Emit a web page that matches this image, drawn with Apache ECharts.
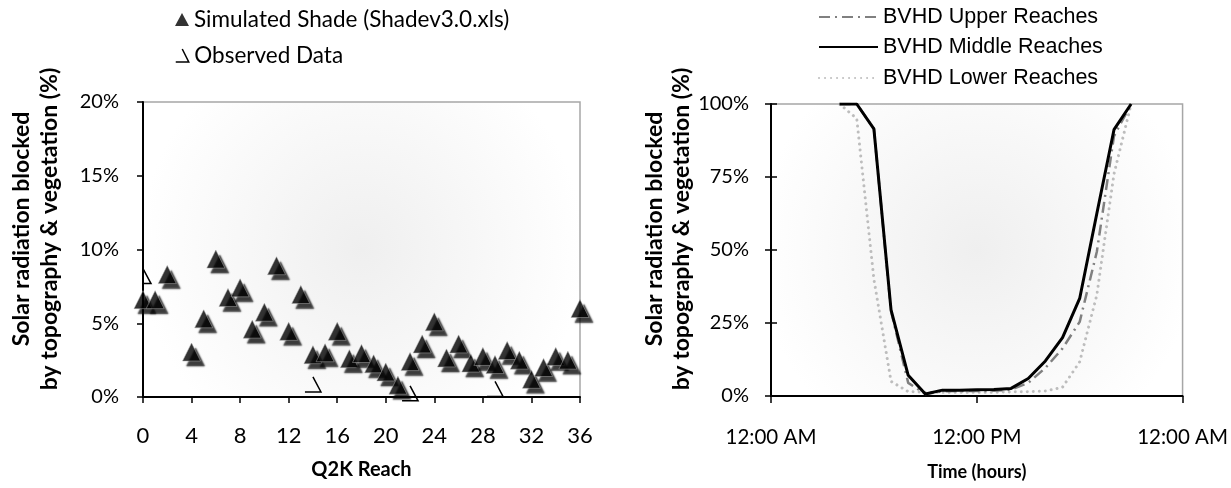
<!DOCTYPE html>
<html>
<head>
<meta charset="utf-8">
<script src="https://cdn.jsdelivr.net/npm/echarts@6/dist/echarts.min.js"></script>
<style>
  html, body { margin: 0; padding: 0; background: #ffffff; }
  #chart { width: 1231px; height: 488px; }
</style>
</head>
<body>
<div id="chart"></div>
<script>
// ---- Left panel: shade by Q2K reach (percent) ----
const reaches = [0, 1, 2, 4, 5, 6, 7, 8, 9, 10, 11, 12, 13, 14, 15, 16, 17, 18, 19, 20, 21, 22, 23, 24, 25, 26, 27, 28, 29, 30, 31, 32, 33, 34, 35, 36];
const simulatedShade = [6.6, 6.6, 8.3, 3.05, 5.3, 9.35, 6.75, 7.4, 4.6, 5.75, 8.9, 4.45, 6.95, 2.87, 3.0, 4.45, 2.6, 2.95, 2.25, 1.7, 0.8, 2.4, 3.6, 5.1, 2.65, 3.6, 2.3, 2.75, 2.2, 3.15, 2.5, 1.2, 2.0, 2.75, 2.5, 6.0];
const observedReaches = [0, 14, 22, 29];
const observedShade = [8.2, 0.85, 0.25, 0.55];

// ---- Right panel: hourly blocked radiation (percent) ----
const hours = [4, 5, 6, 7, 8, 9, 10, 11, 12, 13, 14, 15, 16, 17, 18, 19, 20, 21];
const upperReaches  = [100, 100, 91.5, 29, 4.5, 0.7, 1.6, 1.7, 1.7, 1.8, 2.2, 4.5, 9.6, 16.3, 25.4, 49.4, 89, 100];
const middleReaches = [100, 100, 91.5, 29.5, 7.1, 0.7, 2.0, 2.0, 2.1, 2.2, 2.6, 6.0, 12.0, 20.0, 33.4, 62.5, 91.2, 100];
const lowerReaches  = [100, 95, 40, 5, 1.5, 1.3, 1.3, 1.3, 1.3, 1.3, 1.4, 1.5, 1.7, 3.0, 11.7, 34.6, 76, 100];
const timeTicks = [0, 12, 24];
const timeTickLabels = ['12:00 AM', '12:00 PM', '12:00 AM'];

const pairs = (xs, ys) => xs.map((x, i) => [x, ys[i]]);

const CAL = 'Lato, "Open Sans", sans-serif';
const ARIAL = '"Liberation Sans", Arial, sans-serif';

const plotFill = () => new echarts.graphic.RadialGradient(0.5, 0.5, 0.75, [
  { offset: 0, color: '#efefef' },
  { offset: 1, color: '#ffffff' }
]);

const axisLine = { show: true, lineStyle: { color: '#000', width: 2 } };
const noSplit = { show: false };

// open triangle marker (right side and base only); the base stops at the plot's left edge
const obsSymbol = 'path://M8,0 L16,16 L0,16';
const OBS_W = 16, OBS_H = 15;
function renderObserved(params, api) {
  const p = api.coord([api.value(0), api.value(1)]);
  const leftEdge = params.coordSys.x;
  return {
    type: 'polyline',
    shape: { points: [
      [p[0], p[1] - OBS_H / 2],
      [p[0] + OBS_W / 2, p[1] + OBS_H / 2],
      [Math.max(p[0] - OBS_W / 2, leftEdge), p[1] + OBS_H / 2]
    ] },
    style: { stroke: '#000', lineWidth: 1.5, fill: null }
  };
}

const lineLegend = (name, top) => ({
  data: [name], left: 818, top: top, itemWidth: 59, itemHeight: 14, padding: 0,
  itemStyle: { opacity: 0 },
  textStyle: { fontFamily: ARIAL, fontSize: 21.5, color: '#000' }
});

const chart = echarts.init(document.getElementById('chart'), null, { renderer: 'canvas' });

chart.setOption({
  animation: false,
  backgroundColor: '#ffffff',
  grid: [
    { left: 143, top: 102, width: 437, height: 295, show: true, borderColor: '#a6a6a6', borderWidth: 1.5, backgroundColor: plotFill() },
    { left: 771, top: 104, width: 420, height: 292, show: true, borderColor: '#a6a6a6', borderWidth: 1.5, backgroundColor: plotFill() }
  ],
  legend: [
    { data: [{ name: 'Simulated Shade (Shadev3.0.xls)', icon: 'triangle',
        itemStyle: { shadowBlur: 0, shadowOffsetX: 0, shadowOffsetY: 0, borderWidth: 0 } }],
      left: 175, top: 8, itemWidth: 14, itemHeight: 13, padding: 0,
      textStyle: { fontFamily: CAL, fontSize: 22.5, color: '#000' } },
    { data: [{ name: 'Observed Data', icon: obsSymbol,
        itemStyle: { color: 'rgba(0,0,0,0)', borderColor: '#000', borderWidth: 1.5 } }],
      left: 175, top: 44, itemWidth: 14, itemHeight: 13, padding: 0,
      textStyle: { fontFamily: CAL, fontSize: 22.5, color: '#000' } },
    lineLegend('BVHD Upper Reaches', 6),
    lineLegend('BVHD Middle Reaches', 36),
    lineLegend('BVHD Lower Reaches', 67)
  ],
  xAxis: [
    { gridIndex: 0, type: 'value', min: 0, max: 36, interval: 4,
      axisLine: axisLine, splitLine: noSplit,
      axisTick: { show: true, inside: false, length: 6, lineStyle: { color: '#000', width: 1.5 } },
      axisLabel: { fontFamily: CAL, fontSize: 22, color: '#000', margin: 28 },
      name: 'Q2K Reach', nameLocation: 'middle', nameGap: 63,
      nameTextStyle: { fontFamily: CAL, fontSize: 20, fontWeight: 'bold', color: '#000' } },
    { gridIndex: 1, type: 'value', min: 0, max: 24, interval: 12,
      axisLine: axisLine, splitLine: noSplit,
      axisTick: { show: true, inside: false, length: 7, lineStyle: { color: '#000', width: 1.5 } },
      axisLabel: { fontFamily: CAL, fontSize: 20.5, color: '#000', margin: 31,
        formatter: v => timeTickLabels[timeTicks.indexOf(v)] },
      name: 'Time (hours)', nameLocation: 'middle', nameGap: 67,
      nameTextStyle: { fontFamily: CAL, fontSize: 18, fontWeight: 'bold', color: '#000' } }
  ],
  yAxis: [
    { gridIndex: 0, type: 'value', min: 0, max: 20, interval: 5, position: 'left',
      axisLine: axisLine, splitLine: noSplit,
      axisTick: { show: true, inside: false, length: 6, lineStyle: { color: '#000', width: 1.5 } },
      axisLabel: { fontFamily: CAL, fontSize: 20, color: '#000', margin: 24, formatter: '{value}%' } },
    { gridIndex: 1, type: 'value', min: 0, max: 100, interval: 25, position: 'left',
      axisLine: axisLine, splitLine: noSplit,
      axisTick: { show: true, inside: false, length: 6, lineStyle: { color: '#000', width: 1.5 } },
      axisLabel: { fontFamily: CAL, fontSize: 20, color: '#000', margin: 22, formatter: '{value}%' } },
    // inner half of the crossing ticks on the time panel
    { gridIndex: 1, type: 'value', min: 0, max: 100, interval: 25, position: 'left', offset: 0,
      axisLine: { show: false }, splitLine: noSplit, axisLabel: { show: false },
      axisTick: { show: true, inside: true, length: 6, lineStyle: { color: '#000', width: 1.5 } } }
  ],
  graphic: [
    { type: 'text', x: 22, y: 229, rotation: Math.PI / 2,
      style: { text: 'Solar radiation blocked', font: 'bold 23px ' + CAL, fill: '#000', textAlign: 'center', textVerticalAlign: 'middle', align: 'center', verticalAlign: 'middle' } },
    { type: 'text', x: 50, y: 229, rotation: Math.PI / 2,
      style: { text: 'by topography & vegetation (%)', font: 'bold 23px ' + CAL, fill: '#000', textAlign: 'center', textVerticalAlign: 'middle', align: 'center', verticalAlign: 'middle' } },
    { type: 'text', x: 655, y: 229, rotation: Math.PI / 2,
      style: { text: 'Solar radiation blocked', font: 'bold 23px ' + CAL, fill: '#000', textAlign: 'center', textVerticalAlign: 'middle', align: 'center', verticalAlign: 'middle' } },
    { type: 'text', x: 682, y: 229, rotation: Math.PI / 2,
      style: { text: 'by topography & vegetation (%)', font: 'bold 23px ' + CAL, fill: '#000', textAlign: 'center', textVerticalAlign: 'middle', align: 'center', verticalAlign: 'middle' } }
  ],
  series: [
    { name: 'Simulated Shade (Shadev3.0.xls)', type: 'scatter', xAxisIndex: 0, yAxisIndex: 0,
      data: pairs(reaches, simulatedShade), symbol: 'triangle', symbolSize: 18, clip: false,
      itemStyle: { color: '#000', borderColor: 'rgba(170,170,170,0.9)', borderWidth: 0.7,
        shadowColor: 'rgba(0,0,0,0.95)', shadowBlur: 1.5, shadowOffsetX: 4, shadowOffsetY: 5 },
      z: 3 },
    { name: 'Observed Data', type: 'custom', xAxisIndex: 0, yAxisIndex: 0,
      data: pairs(observedReaches, observedShade), renderItem: renderObserved, clip: false,
      itemStyle: { color: '#000' }, z: 4 },
    { name: 'BVHD Lower Reaches', type: 'line', xAxisIndex: 1, yAxisIndex: 1,
      data: pairs(hours, lowerReaches), symbol: 'none',
      lineStyle: { color: '#bdbdbd', width: 3, type: [0.01, 6], cap: 'round' }, itemStyle: { color: '#bdbdbd' }, z: 2 },
    { name: 'BVHD Upper Reaches', type: 'line', xAxisIndex: 1, yAxisIndex: 1,
      data: pairs(hours, upperReaches), symbol: 'none',
      lineStyle: { color: '#808080', width: 2.5, type: [11, 5, 2, 5] }, itemStyle: { color: '#808080' }, z: 3 },
    { name: 'BVHD Middle Reaches', type: 'line', xAxisIndex: 1, yAxisIndex: 1,
      data: pairs(hours, middleReaches), symbol: 'none',
      lineStyle: { color: '#000', width: 3 }, itemStyle: { color: '#000' }, z: 4 }
  ]
});
</script>
</body>
</html>
